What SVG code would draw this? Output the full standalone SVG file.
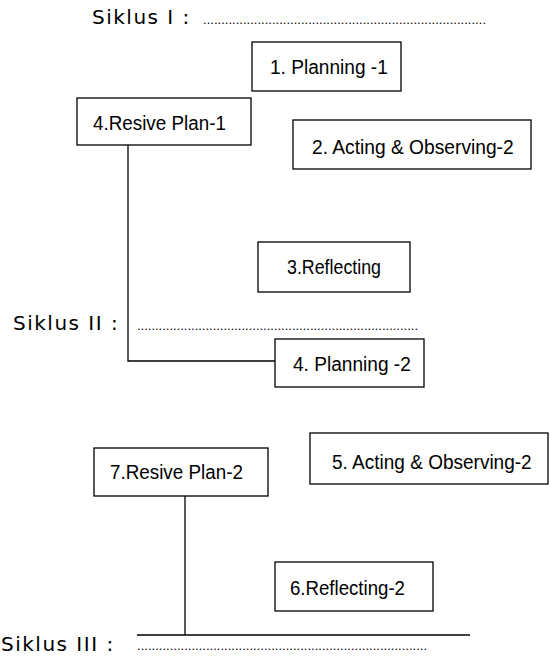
<svg xmlns="http://www.w3.org/2000/svg" width="550" height="658" viewBox="0 0 550 658">
<style>
.bx{fill:#fff;stroke:#000;stroke-width:1.3}
.bt{font-family:"Liberation Sans",Arial,sans-serif;font-size:21px;fill:#000}
.sk{font-family:"DejaVu Sans","Noto Sans",sans-serif;font-size:20px;fill:#000;letter-spacing:1.5px}
.dt{font-family:"Liberation Sans",Arial,sans-serif;font-size:13px;fill:#000}
.ln{fill:none;stroke:#000;stroke-width:1.3}
</style>
<rect width="550" height="658" fill="#fff"/>
<g id="labels">
<text class="sk" x="92" y="24">Siklus I :</text>
<text class="dt" x="203" y="24" textLength="283" lengthAdjust="spacing">..............................................................................</text>
<text class="sk" x="13" y="330">Siklus II :</text>
<text class="dt" x="137" y="330" textLength="281" lengthAdjust="spacing">..............................................................................</text>
<text class="sk" x="1" y="651">Siklus III :</text>
<text class="dt" x="137" y="650" textLength="290" lengthAdjust="spacing">................................................................................</text>
</g>
<g id="connectors">
<polyline class="ln" points="128,145 128,361 275,361"/>
<line class="ln" x1="185" y1="496" x2="185" y2="635"/>
<line class="ln" x1="137" y1="635" x2="470" y2="635"/>
</g>
<g id="n1"><rect class="bx" x="252" y="42" width="149" height="49"/><text class="bt" transform="translate(270,74) scale(0.91,1)">1. Planning -1</text></g>
<g id="n4"><rect class="bx" x="77" y="98" width="174" height="47"/><text class="bt" transform="translate(93,130) scale(0.897,1)">4.Resive Plan-1</text></g>
<g id="n2"><rect class="bx" x="293" y="120" width="238" height="49"/><text class="bt" transform="translate(312,154) scale(0.915,1)">2. Acting &amp; Observing-2</text></g>
<g id="n3"><rect class="bx" x="258" y="242" width="152" height="50"/><text class="bt" transform="translate(287,274) scale(0.848,1)">3.Reflecting</text></g>
<g id="n4b"><rect class="bx" x="275" y="339" width="149" height="48"/><text class="bt" transform="translate(293,371) scale(0.91,1)">4. Planning -2</text></g>
<g id="n5"><rect class="bx" x="310" y="433" width="238" height="51"/><text class="bt" transform="translate(332,469) scale(0.906,1)">5. Acting &amp; Observing-2</text></g>
<g id="n7"><rect class="bx" x="94" y="448" width="174" height="48"/><text class="bt" transform="translate(110,479) scale(0.897,1)">7.Resive Plan-2</text></g>
<g id="n6"><rect class="bx" x="275" y="562" width="158" height="49"/><text class="bt" transform="translate(290,595) scale(0.888,1)">6.Reflecting-2</text></g>
</svg>
